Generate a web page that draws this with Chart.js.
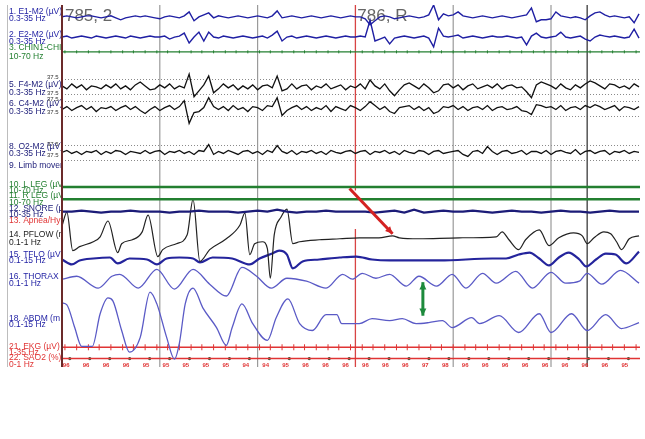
<!DOCTYPE html>
<html>
<head>
<meta charset="utf-8">
<script src="https://cdn.jsdelivr.net/npm/chart.js@4/dist/chart.umd.min.js"></script>
<style>
  body { margin: 0; background: #fff; }
  #wrap { position: relative; width: 645px; height: 439px; }
</style>
</head>
<body>
<div id="wrap"><canvas id="psg" width="645" height="439"></canvas></div>
<script>
// EEG / EOG channels, sampled every 0.05 s, deflection in trace units (up = positive)
const eegStep = 0.05;
const e1Wave = [
  0,1,0,-1,0,1,1,0,-1,0, 1,-1,-3,-1,0,1,0,1,0,-1, -2,0,1,0,-1,1,5,-4,0,2,
  4,-1,1,0,-1,0,1,0,-1,0, 1,0,-1,1,6,-1,0,1,0,-1, 0,1,0,-1,0,1,0,-1,0,1,
  0,0,-2,-8,-4,0,1,0,-2,-1, 0,1,0,-1,0,2,12,-3,3,1, 2,5,1,0,-1,0,1,0,-1,0,
  1,0,-1,0,1,2,9,-5,-3,-3, -2,5,1,0,-1,0,-1,-3,1,4, 5,2,0,1,0,-1,0,-6,3
];
const e2Wave = [
  0,1,-1,0,1,0,-1,1,0,-1, 0,1,0,-1,1,0,-1,0,1,0, 0,1,-2,0,1,4,-6,0,5,-4,
  5,0,-1,1,0,-1,0,1,0,-1, 0,1,-1,2,6,-4,0,1,-1,0, 1,0,-1,0,1,0,-1,0,1,0,
  0,1,0,17,-4,-2,0,-7,-1,0, 1,0,-1,0,1,-1,-10,9,1,0, 1,2,-1,0,1,0,-1,0,1,0,
  0,1,0,-1,0,-8,1,4,0,-1, 0,1,5,0,-1,0,1,-2,-4,0, 2,1,0,1,0,-1,0,8,-1
];
const f4Wave = [
  1,-2,3,-1,2,-3,1,0,-2,2, -1,3,-2,1,-3,2,5,1,-3,-2, 2,-1,3,-2,1,-1,13,-10,-4,2,
  11,-6,-2,3,-1,2,-3,1,-2,2, -3,1,2,-1,11,-4,-2,3,-2,1, 2,-3,1,-1,3,-2,0,2,-3,1,
  -1,3,-2,7,1,-2,3,-4,-9,-3, 2,4,1,-2,3,-1,-6,-4,2,3, -1,2,-3,1,3,-2,0,2,-1,3,
  -2,1,2,-1,0,-5,-11,2,5,3, 1,-2,3,-1,-3,2,-1,3,6,4, 1,-2,3,2,-1,1,-2,3,0
];
const c4Wave = [
  -1,2,-2,1,3,-1,2,-3,1,0, 2,-2,1,3,-1,2,-2,-5,-1,2, -2,1,3,-1,2,8,-15,-4,-3,1,
  11,2,-1,2,-2,3,-1,1,-3,2, 1,-2,3,2,11,-7,-2,1,3,-1, 2,-2,1,-1,3,-3,2,0,-2,3,
  1,-2,2,7,3,-1,2,-3,-5,1, 2,3,-1,2,-2,1,-5,-3,2,1, 3,-1,2,-2,1,2,-1,3,-2,1,
  2,-1,0,2,-2,-3,-6,4,3,1, 2,-1,3,-2,1,2,-1,3,1,4, 2,-1,1,3,-2,2,1,-1,2
];
const o2Wave = [
  0,2,-1,1,-2,1,0,2,-2,1, -1,2,1,-2,1,0,-1,2,-1,1, 2,-2,1,0,2,-1,1,-2,2,1,
  8,-2,1,-1,2,0,-2,1,2,-1, 1,-2,2,0,7,1,-1,2,-2,1, 0,2,-1,1,-2,2,0,-1,1,2,
  -1,1,2,-2,1,0,2,-1,1,-2, 2,0,-1,2,1,-2,1,2,-1,0, 1,2,-2,-4,1,2,-1,6,1,-2,
  1,2,-1,0,2,-2,1,1,-1,2, -2,1,2,0,-1,3,-2,1,2,-1, 1,2,-2,1,0,2,-1,1,0
];

// slow channels every 0.5 / 1 s
const chinWave = [0,0,0,0,0,0,0,0,0,0,0,0,0];
const legWave = [0,0,0,0,0,0,0];
const snoreStep = 0.1;
const snoreWave = [
  0,0,1,0,-1,0,0,1,0,0, 0,-1,0,0,1,0,0,0,-1,0, 1,0,2,0,-1,0,0,1,0,0,
  0,0,-1,0,1,-1,2,-1,0,1, 0,0,1,0,-1,0,1,0,0,-1, 0,1,0,0,-1,0,1,0,0,0
];

// respiration: time (s) and deflection
const pflowT = [0,0.05,0.11,0.18,0.32,0.39,0.47,0.57,0.61,0.72,0.82,0.88,0.98,1.03,1.17,1.28,1.34,1.41,1.51,1.68,1.82,1.87,1.92,1.97,2.05,2.10,2.13,2.17,2.24,2.30,2.36,2.43,2.63,2.84,3.04,3.24,3.38,3.45,3.65,4.06,4.44,4.50,4.57,4.67,4.74,4.88,4.98,5.08,5.23,5.32,5.37,5.44,5.54,5.61,5.67,5.72,5.80,5.90];
const pflowV = [12,26,-13,-9,-4,1,17,-15,-6,-2,6,23,-19,-12,-6,3,39,-24,-12,-1,13,25,-17,-6,-4,-11,-41,3,21,29,-6,-4,-2,-1,0,0,2,0,-1,0,1,6,-2,-12,-2,8,-8,0,5,2,-6,0,6,4,-4,-12,-1,2];
const tfloT = [0,0.10,0.18,0.32,0.49,0.57,0.69,0.87,0.97,1.07,1.20,1.34,1.41,1.54,1.74,1.92,2.02,2.15,2.22,2.30,2.36,2.46,2.63,2.84,3.01,3.17,3.35,3.86,4.40,4.54,4.67,4.78,4.88,4.98,5.08,5.18,5.29,5.36,5.46,5.56,5.66,5.77,5.90];
const tfloV = [0,-5,-1,1,2,-4,1,0,-5,1,2,1,-3,2,1,-5,1,6,9,5,-9,-2,0,2,3,0,-1,-1,1,1,5,7,1,-6,2,7,0,-7,0,6,5,-4,8];
const thoraxT = [0,0.15,0.37,0.51,0.59,0.78,0.97,1.15,1.34,1.51,1.68,1.84,1.99,2.14,2.30,2.50,2.70,2.87,2.97,3.07,3.21,3.35,3.52,3.65,3.83,3.99,4.13,4.30,4.44,4.64,4.81,5.00,5.15,5.29,5.37,5.52,5.71,5.90];
const thoraxV = [0,3,-9,3,5,-9,10,-10,10,-5,-17,12,3,-9,1,-2,-9,5,0,6,1,5,-7,3,-7,5,-9,6,-4,8,-9,7,-4,-2,6,-5,9,-4];
const abdmT = [0,0.05,0.13,0.20,0.31,0.39,0.47,0.52,0.61,0.69,0.80,0.90,0.97,1.07,1.15,1.20,1.26,1.34,1.44,1.58,1.68,1.74,1.84,1.95,2.10,2.19,2.31,2.43,2.56,2.70,2.81,2.86,3.04,3.17,3.35,3.48,3.62,3.75,3.89,3.99,4.19,4.27,4.47,4.67,4.88,5.00,5.21,5.37,5.56,5.72,5.90];
const abdmV = [18,16,-7,-26,-26,7,23,20,-10,-32,-17,29,17,-17,-39,-23,17,33,13,-7,-25,-7,17,-3,-20,3,22,-3,-10,6,6,-3,-3,2,0,2,-3,-2,0,-7,3,-3,5,-12,7,-12,7,-10,6,-8,-2];

// EKG beats (s) and SaO2 readings (%)
const ekgBeats = [0.03,0.15,0.27,0.38,0.50,0.62,0.73,0.85,0.97,1.08,1.20,1.32,1.43,1.55,1.67,1.78,1.90,2.02,2.13,2.25,2.37,2.48,2.60,2.72,2.83,2.95,3.07,3.18,3.30,3.42,3.53,3.65,3.77,3.88,4.00,4.12,4.23,4.35,4.47,4.58,4.70,4.82,4.93,5.05,5.17,5.28,5.40,5.52,5.63,5.75,5.87];
const sao2Values = [96,96,96,96,95,95,95,95,95,94,94,95,96,96,96,96,96,96,97,98,96,96,96,96,96,96,96,96,95];
const epochMarks = [[0.03, '785, 2'], [3.02, '786, R']];

// ---- layout (trace baselines in chart units, 0 = top) ----
const L = { e1: 12, e2: 32.5, chin: 47.5, f4: 83, c4: 105, o2: 149.5, lleg: 184.5, rleg: 197,
            snore: 209.5, pflow: 236, tflo: 258, thorax: 278, abdm: 320, ekg: 347, sao2: 358.5 };
const sao2Step = 0.204, sao2Start = 0.08;

const even = (vals, dt, base) => vals.map((v, i) => ({ x: i * dt, y: base - v }));
const timed = (ts, vals, base) => vals.map((v, i) => ({ x: ts[i], y: base - v }));

const BLUE = '#1f1fa3', NAVY = '#1c1c78', GREEN = '#237f30', RED = '#e03434', LIGHT = '#5a5ac6';
const SMOOTH = { cubicInterpolationMode: 'monotone' };

const trace = (data, color, width, extra) => Object.assign({
  data, borderColor: color, borderWidth: width, pointRadius: 0, fill: false, tension: 0
}, extra || {});
const ticks = (data, color, r) => ({
  data, showLine: false, pointStyle: 'line', rotation: 90, pointRadius: r,
  pointBorderColor: color, pointBorderWidth: 1, borderColor: color
});

const panelLabels = [
  ['1. E1-M2 (µV)', 7, BLUE], ['0.3-35 Hz', 14, BLUE],
  ['2. E2-M2 (µV)', 30, BLUE], ['0.3-35 Hz', 37, BLUE],
  ['3. CHIN1-CHI', 43.5, GREEN], ['10-70 Hz', 52, GREEN],
  ['5. F4-M2 (µV)', 81, NAVY], ['0.3-35 Hz', 89, NAVY],
  ['6. C4-M2 (µV)', 100.5, NAVY], ['0.3-35 Hz', 108, NAVY],
  ['8. O2-M2 (µV)', 144, NAVY], ['0.3-35 Hz', 151, NAVY],
  ['9. Limb mover', 163, NAVY],
  ['10. L LEG (µV', 182, GREEN], ['10-70 Hz', 188.5, GREEN],
  ['11. R LEG (µV', 193.5, GREEN], ['10-70 Hz', 200, GREEN],
  ['12. SNORE (µ', 206, NAVY], ['10-35 Hz', 213, NAVY],
  ['13. Apnea/Hyp', 219, RED],
  ['14. PFLOW (n', 233, '#222'], ['0.1-1 Hz', 241, '#222'],
  ['15. TFLO (µV)', 253, BLUE], ['0.1-15 Hz', 259, BLUE],
  ['16. THORAX', 275, BLUE], ['0.1-1 Hz', 282, BLUE],
  ['18. ABDM (m', 318, BLUE], ['0.1-15 Hz', 324.5, BLUE],
  ['21. EKG (µV)', 346, RED], ['1-35 Hz', 352, RED],
  ['22. SAO2 (%)', 357.5, RED], ['0-1 Hz', 364.5, RED]
];
const scaleLabels = [73, 90, 95.5, 109, 141, 152];

function arrow(ctx, x1, y1, x2, y2, color, both) {
  const head = (ax, ay, bx, by) => {
    const a = Math.atan2(by - ay, bx - ax);
    ctx.beginPath();
    ctx.moveTo(bx, by);
    ctx.lineTo(bx - 8 * Math.cos(a - 0.45), by - 8 * Math.sin(a - 0.45));
    ctx.lineTo(bx - 8 * Math.cos(a + 0.45), by - 8 * Math.sin(a + 0.45));
    ctx.closePath();
    ctx.fill();
  };
  ctx.save();
  ctx.strokeStyle = color; ctx.fillStyle = color; ctx.lineWidth = 3;
  ctx.beginPath(); ctx.moveTo(x1, y1); ctx.lineTo(x2, y2); ctx.stroke();
  head(x1, y1, x2, y2);
  if (both) head(x2, y2, x1, y1);
  ctx.restore();
}

const overlay = {
  id: 'overlay',
  beforeDatasetsDraw(chart) {
    const { ctx, chartArea: a, scales: { x, y } } = chart;
    ctx.save();
    // dotted amplitude lines for the EEG lanes
    ctx.strokeStyle = '#8a8a8a'; ctx.lineWidth = 1; ctx.setLineDash([1, 2]);
    [L.f4, L.c4, L.o2].forEach(b => [-7.5, 7.5].forEach(d => {
      const py = Math.round(y.getPixelForValue(b + d)) + 0.5;
      ctx.beginPath(); ctx.moveTo(a.left, py); ctx.lineTo(a.right, py); ctx.stroke();
    }));
    ctx.setLineDash([]);
    // second lines
    ctx.strokeStyle = '#9a9a9a'; ctx.lineWidth = 1.2;
    [1, 2, 4, 5].forEach(s => {
      const px = x.getPixelForValue(s);
      ctx.beginPath(); ctx.moveTo(px, a.top); ctx.lineTo(px, a.bottom); ctx.stroke();
    });
    ctx.strokeStyle = '#555'; ctx.lineWidth = 1.5;
    let px = x.getPixelForValue(5.37);
    ctx.beginPath(); ctx.moveTo(px, a.top); ctx.lineTo(px, a.bottom); ctx.stroke();
    // cursor (broken where the arrow crosses)
    ctx.strokeStyle = '#d84444'; ctx.lineWidth = 1.3;
    px = x.getPixelForValue(3);
    ctx.beginPath();
    ctx.moveTo(px, a.top); ctx.lineTo(px, y.getPixelForValue(188));
    ctx.moveTo(px, y.getPixelForValue(227)); ctx.lineTo(px, a.bottom);
    ctx.stroke();
    // epoch numbers
    ctx.fillStyle = '#666'; ctx.font = '17px "Liberation Sans", Arial, sans-serif';
    ctx.textBaseline = 'top';
    epochMarks.forEach(([t, s]) => ctx.fillText(s, x.getPixelForValue(t), a.top + 3));
    ctx.restore();
  },
  afterDatasetsDraw(chart) {
    const { ctx, chartArea: a, scales: { x, y } } = chart;
    ctx.save();
    // frame
    ctx.strokeStyle = '#bdbdbd'; ctx.lineWidth = 1;
    ctx.beginPath(); ctx.moveTo(7.5, a.top); ctx.lineTo(7.5, a.bottom); ctx.stroke();
    ctx.strokeStyle = '#6b2a2a'; ctx.lineWidth = 2;
    ctx.beginPath(); ctx.moveTo(a.left, a.top); ctx.lineTo(a.left, a.bottom); ctx.stroke();
    // SaO2 readings
    ctx.save();
    ctx.beginPath(); ctx.rect(a.left, a.top, a.right - a.left, a.bottom - a.top); ctx.clip();
    ctx.fillStyle = RED; ctx.font = 'bold 6px "Liberation Sans", Arial, sans-serif';
    ctx.textBaseline = 'top';
    sao2Values.forEach((v, i) => {
      ctx.fillText(String(v), x.getPixelForValue(sao2Start + i * sao2Step) - 7, y.getPixelForValue(362));
    });
    ctx.restore();
    // annotations
    arrow(ctx, x.getPixelForValue(2.94), y.getPixelForValue(186), x.getPixelForValue(3.38), y.getPixelForValue(232), '#d42222', false);
    arrow(ctx, x.getPixelForValue(3.69), y.getPixelForValue(281), x.getPixelForValue(3.69), y.getPixelForValue(315), '#1d8a3c', true);
    // channel labels
    ctx.beginPath(); ctx.rect(8, 0, a.left - 9, a.bottom); ctx.clip();
    ctx.textBaseline = 'middle';
    ctx.font = '8.5px "Liberation Sans", Arial, sans-serif';
    panelLabels.forEach(([s, py, c]) => { ctx.fillStyle = c; ctx.fillText(s, 9, y.getPixelForValue(py)); });
    ctx.fillStyle = '#333'; ctx.font = '6px "Liberation Sans", Arial, sans-serif';
    scaleLabels.forEach(py => ctx.fillText('37.5', 47, y.getPixelForValue(py)));
    ctx.restore();
  }
};

new Chart(document.getElementById('psg'), {
  type: 'line',
  data: {
    datasets: [
      trace(even(e1Wave, eegStep, L.e1), BLUE, 1.4),
      trace(even(e2Wave, eegStep, L.e2), BLUE, 1.4),
      trace(even(chinWave, 0.5, L.chin), GREEN, 1.2),
      ticks(ekgBeats.map(t => ({ x: t, y: L.chin })), GREEN, 1.5),
      trace(even(f4Wave, eegStep, L.f4), '#111', 1.3),
      trace(even(c4Wave, eegStep, L.c4), '#111', 1.3),
      trace(even(o2Wave, eegStep, L.o2), '#111', 1.3),
      trace(even(legWave, 1, L.lleg), GREEN, 2.5),
      trace(even(legWave, 1, L.rleg), GREEN, 2.5),
      trace(even(snoreWave, snoreStep, L.snore), NAVY, 2.2),
      trace(timed(pflowT, pflowV, L.pflow), '#222', 1.2, SMOOTH),
      trace(timed(tfloT, tfloV, L.tflo), '#24249c', 2.2, SMOOTH),
      trace(timed(thoraxT, thoraxV, L.thorax), LIGHT, 1.3, SMOOTH),
      trace(timed(abdmT, abdmV, L.abdm), LIGHT, 1.3, SMOOTH),
      trace(even(legWave, 1, L.ekg), RED, 1.5),
      ticks(ekgBeats.map(t => ({ x: t, y: L.ekg })), RED, 3),
      trace(even(legWave, 1, L.sao2), RED, 1.5),
      {
        data: sao2Values.map((v, i) => ({ x: sao2Start + i * sao2Step, y: L.sao2 })),
        showLine: false, pointRadius: 1.6, pointBackgroundColor: '#1d5a3a', pointBorderWidth: 0
      }
    ]
  },
  options: {
    responsive: false,
    animation: false,
    devicePixelRatio: 1,
    layout: { padding: { left: 62, right: 5, top: 0, bottom: 72 } },
    plugins: { legend: { display: false }, tooltip: { enabled: false } },
    scales: {
      x: { type: 'linear', min: 0, max: 5.91, display: false },
      y: { type: 'linear', min: 0, max: 367, reverse: true, display: false }
    }
  },
  plugins: [overlay]
});
</script>
</body>
</html>
